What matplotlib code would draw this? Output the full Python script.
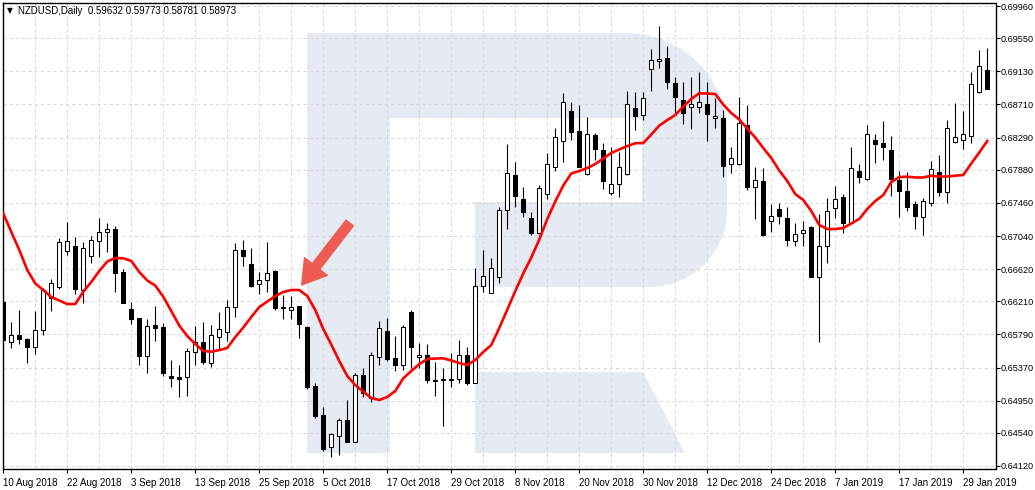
import matplotlib
matplotlib.use('Agg')
import matplotlib.pyplot as plt
import numpy as np
from matplotlib.patches import Polygon, Rectangle

plt.rcParams['font.family'] = ['Liberation Sans', 'DejaVu Sans']

# NZDUSD daily candles, 10 Aug 2018 .. 1 Feb 2019
opens = [
    .66205, .65697, .65783, .65732, .65634, .65850, .66257, .66396, .66849, .66913,
    .66354, .66786, .66976, .67091, .67129, .66583, .66113, .65998, .65520, .65910,
    .65884, .65262, .65249, .65253, .65571, .65694, .65423, .65754, .65817, .66134,
    .66862, .66684, .66427, .66481, .66596, .66134, .66100, .66147, .65888, .65135,
    .64768, .64364, .64507, .64704, .64429, .65271, .64979, .65507, .65833, .65487,
    .65402, .66071, .65499, .65525, .65211, .65224, .65224, .65221, .65525, .65177,
    .66399, .66322, .66515, .67366, .67810, .67506, .67264, .67075, .67569, .67919,
    .68245, .68626, .68372, .67826, .68321, .68131, .67582, .67696, .67823, .68661,
    .68570, .69156, .69261, .69300, .68986, .68766, .68674, .68674, .68712, .68534,
    .68534, .67950, .67950, .68449, .67658, .67738, .67233, .67379, .67268, .66974,
    .67075, .67154, .66515, .66909, .67392, .67531, .67208, .67862, .67760, .68256,
    .68220, .68131, .67751, .67611, .67446, .67285, .67463, .67848, .67602, .68229,
    .68255, .68313, .68864, .69143]
highs = [
    .66218, .65948, .66100, .65740, .66087, .66379, .66494, .67015, .67218, .67027,
    .66964, .67040, .67268, .67205, .67167, .66621, .66205, .66000, .65986, .66155,
    .65935, .65465, .65402, .65618, .65897, .65948, .65910, .66075, .66227, .66948,
    .66989, .66884, .66586, .66960, .66605, .66291, .66278, .66150, .65897, .65177,
    .64869, .64542, .64726, .64958, .65304, .65360, .65571, .65960, .66003, .65770,
    .65910, .66100, .65677, .65664, .65436, .65360, .65550, .65719, .65634, .66630,
    .66862, .66757, .67412, .68207, .67979, .67666, .67341, .67687, .68097, .68410,
    .68859, .68741, .68703, .68546, .68351, .68216, .68165, .68110, .68881, .68864,
    .68864, .69414, .69706, .69452, .69055, .68991, .69055, .69118, .68999, .68796,
    .68639, .68176, .68801, .68703, .67915, .67899, .67446, .67465, .67408, .67211,
    .67230, .67167, .67319, .67522, .67675, .67573, .68169, .67954, .68449, .68334,
    .68504, .68309, .67865, .67848, .67484, .67518, .67995, .68068, .68512, .68732,
    .68626, .69118, .69401, .69423]
lows = [
    .65697, .65617, .65668, .65431, .65541, .65783, .66091, .66367, .66802, .66303,
    .66193, .66697, .66773, .66840, .66333, .66190, .65922, .65405, .65300, .65706,
    .65262, .65122, .64999, .65008, .65405, .65414, .65376, .65605, .65710, .66008,
    .66659, .66388, .66300, .66333, .66100, .65982, .65982, .65741, .65093, .64726,
    .64310, .64234, .64260, .64420, .64425, .64999, .64929, .65405, .65452, .65329,
    .65338, .65367, .65360, .65177, .65011, .64632, .65118, .65177, .65148, .65170,
    .66333, .66312, .66446, .67125, .67412, .67281, .67056, .67068, .67513, .67868,
    .67982, .68258, .67912, .67814, .68004, .67640, .67557, .67531, .67815, .68385,
    .68512, .68884, .69177, .68906, .68576, .68461, .68401, .68605, .68249, .68414,
    .67785, .67846, .67945, .67630, .67252, .67044, .67094, .67192, .66919, .66917,
    .66916, .66515, .65697, .66700, .67264, .67075, .67200, .67709, .67752, .67962,
    .68001, .67551, .67281, .67358, .67129, .67053, .67421, .67551, .67463, .68220,
    .68148, .68216, .68856, .68902]
closes = [
    .65719, .65783, .65732, .65634, .65846, .66354, .66443, .66960, .66976, .66367,
    .66887, .66989, .67091, .67129, .66574, .66193, .65990, .65519, .65897, .65875,
    .65304, .65237, .65228, .65580, .65694, .65443, .65783, .65855, .66134, .66862,
    .66789, .66408, .66478, .66566, .66129, .66132, .66134, .65918, .65126, .64759,
    .64336, .64522, .64700, .64425, .65271, .65043, .65525, .65868, .65478, .65402,
    .65888, .65627, .65525, .65211, .65195, .65208, .65208, .65525, .65177, .66405,
    .66538, .66630, .67366, .67835, .67551, .67348, .67081, .67646, .67950, .68293,
    .68737, .68363, .67919, .68334, .68140, .67742, .67696, .67919, .68712, .68567,
    .68788, .69270, .69283, .68991, .68801, .68597, .68712, .68737, .68585, .68567,
    .67932, .68036, .68480, .67666, .67747, .67053, .67294, .67297, .66983, .67062,
    .67113, .66523, .66919, .67354, .67513, .67208, .67899, .67792, .68331, .68214,
    .68165, .67767, .67615, .67412, .67297, .67481, .67887, .67602, .68407, .68301,
    .68331, .68966, .69194, .68910]
# moving average (red line)
ma = [
    .67327, .67091, .66862, .66608, .66437, .66354, .66265, .66221, .66176, .66176,
    .66333, .66456, .66596, .66716, .66761, .66757, .66723, .66583, .66475, .66411,
    .66269, .66087, .65903, .65770, .65668, .65580, .65571, .65592, .65618, .65757,
    .65878, .66011, .66138, .66208, .66278, .66329, .66354, .66354, .66278, .66100,
    .65859, .65662, .65452, .65262, .65148, .65063, .64983, .64958, .64996, .65072,
    .65233, .65326, .65414, .65478, .65484, .65487, .65459, .65427, .65402, .65465,
    .65567, .65656, .65872, .66106, .66341, .66564, .66767, .66995, .67256, .67478,
    .67681, .67834, .67865, .67903, .67954, .68024, .68094, .68138, .68182, .68217,
    .68220, .68328, .68442, .68512, .68576, .68684, .68779, .68852, .68849, .68843,
    .68709, .68601, .68519, .68404, .68290, .68157, .68030, .67871, .67738, .67573,
    .67497, .67357, .67180, .67129, .67129, .67141, .67199, .67256, .67383, .67484,
    .67560, .67725, .67789, .67793, .67783, .67783, .67806, .67795, .67795, .67806,
    .67814, .67960, .68100, .68246]

date_labels = ['10 Aug 2018', '22 Aug 2018', '3 Sep 2018', '13 Sep 2018', '25 Sep 2018',
               '5 Oct 2018', '17 Oct 2018', '29 Oct 2018', '8 Nov 2018', '20 Nov 2018',
               '30 Nov 2018', '12 Dec 2018', '24 Dec 2018', '7 Jan 2019', '17 Jan 2019',
               '29 Jan 2019']
price_ticks = [0.69960, 0.69550, 0.69130, 0.68710, 0.68290, 0.67880, 0.67460, 0.67040,
               0.66620, 0.66210, 0.65790, 0.65370, 0.64950, 0.64540, 0.64120]
header = 'NZDUSD,Daily  0.59632 0.59773 0.58781 0.58973'

W, H = 1035, 490
fig = plt.figure(figsize=(W / 100, H / 100), dpi=100)
fig.patch.set_facecolor('white')

# background layer in pixel coordinates for the watermark
bg = fig.add_axes([0, 0, 1, 1])
bg.set_xlim(0, W)
bg.set_ylim(H, 0)
bg.axis('off')
bg.set_zorder(0)
wm = '#e5eaf3'
bg.add_patch(Rectangle((307, 33), 83, 420, color=wm, lw=0))
verts = [(390, 33), (627, 33)]
for a in np.linspace(-np.pi / 2, 0, 12):
    verts.append((627 + 100 * np.cos(a), 133 + 100 * np.sin(a)))
for a in np.linspace(0, np.pi / 2, 12):
    verts.append((650 + 77 * np.cos(a), 210 + 77 * np.sin(a)))
verts += [(475, 287), (475, 202), (642, 202), (642, 118), (390, 118)]
bg.add_patch(Polygon(verts, closed=True, color=wm, lw=0))
bg.add_patch(Polygon([(475, 372), (643, 372), (685, 453), (475, 453)], closed=True, color=wm, lw=0))

ax = fig.add_axes([2.7 / W, 1 - 469.3 / H, (995.5 - 2.7) / W, (469.3 - 2.7) / H])
ax.set_zorder(1)
ax.set_facecolor('none')

x = np.arange(len(opens))
o = np.array(opens)
c = np.array(closes)
up = c >= o

ax.vlines(x, lows, highs, color='black', lw=0.8, zorder=3)
ax.bar(x, np.abs(c - o), bottom=np.minimum(o, c), width=0.55,
       color=np.where(up, 'white', 'black'), edgecolor='black', lw=0.75, zorder=4)
ax.plot(x, ma, color='#ff0000', lw=1.9, zorder=5, solid_joinstyle='round')

ax.set_xlim(-0.075, 124.03)
ax.set_ylim(0.64078, 0.70002)

ax.yaxis.tick_right()
ax.set_yticks(price_ticks)
ax.set_yticklabels(['%.5f' % v for v in price_ticks])
ax.set_xticks(np.arange(0, 8 * len(date_labels), 8))
ax.set_xticklabels(date_labels, ha='left')
ax.set_xticks(np.arange(4, 124, 8), minor=True)
ax.tick_params(axis='y', direction='out', length=3, width=0.8, pad=1, labelsize=6.6)
ax.tick_params(axis='x', which='major', direction='out', length=3, width=0.8, pad=3, labelsize=7)
ax.tick_params(axis='x', which='minor', length=0)
ax.grid(True, axis='x', which='both', color='#d8d8d8', ls=(0, (3, 3)), lw=0.75, zorder=1)
ax.grid(True, axis='y', which='major', color='#d8d8d8', ls=(0, (3, 3)), lw=0.75, zorder=1)
for s in ax.spines.values():
    s.set_color('black')
    s.set_linewidth(1.0)

# arrow pointing at the moving-average top
ax.annotate('', xy=(37.3, 0.66418), xytext=(48, 62), textcoords='offset pixels',
            arrowprops=dict(arrowstyle='simple,head_width=1.3,head_length=1.05,tail_width=0.42',
                            mutation_scale=16, color='#ee5b53', shrinkA=0, shrinkB=0),
            zorder=6)

fig.text(7 / W, 1 - 11 / H, '\u25bc', fontsize=5.5, family='DejaVu Sans', va='center', ha='left')
fig.text(18 / W, 1 - 11 / H, header, fontsize=7, va='center', ha='left')

fig.savefig('out.png', dpi=100)
